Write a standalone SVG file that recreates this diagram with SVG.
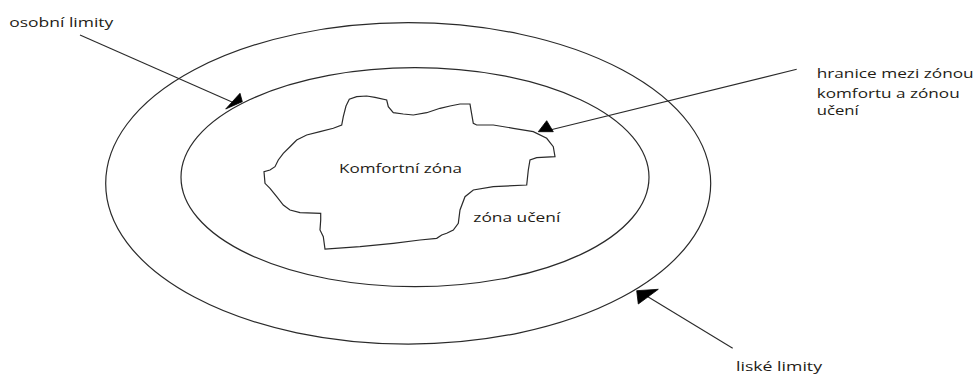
<svg xmlns="http://www.w3.org/2000/svg" width="976" height="374" viewBox="0 0 976 374">
<style>
.zone{fill:none;stroke:#2a2a2a;stroke-width:1.2}
.conn{fill:none;stroke:#2a2a2a;stroke-width:1.1}
.head{fill:#000;stroke:#000;stroke-width:0.8;stroke-linejoin:round}
.lbl{font-family:"Open Sans","Noto Sans","Liberation Sans",sans-serif;font-size:13px;fill:#241c16}
</style>
<rect width="976" height="374" fill="#fff"/>
<g id="outer-zone">
<ellipse class="zone" cx="408.2" cy="183.4" rx="302.5" ry="160.7"/>
</g>
<g id="learning-zone">
<ellipse class="zone" cx="415" cy="177.2" rx="234" ry="109.5"/>
<text class="lbl" x="473.3" y="221.7" textLength="87" lengthAdjust="spacingAndGlyphs">zóna učení</text>
</g>
<g id="comfort-zone">
<path class="zone" d="M346,106 L349.3,99.3 L356.7,96.7 L366.7,96 L375,97.3 L386.7,100 L388.3,106.7 L393.3,112.7 L403.3,114 L413.3,115 L426.7,112.7 L440,108.3 L450,106 L460,104 L470,104 L470.7,108.3 L473.3,123.3 L476.7,125 L493.3,125 L513.3,128.3 L533.3,131.7 L546.7,138.3 L553.3,146.7 L555,156.7 L536.7,157.7 L530,160 L528.3,170 L526.7,185 L493.3,186.7 L473.3,190 L465,196.7 L460,210 L458.3,223.3 L453.3,230 L446.7,233.3 L441.7,235 L436.7,238.3 L420,240 L393.3,243.3 L360,246.7 L325,249 L323.3,236.7 L320,230 L320.7,220 L320.7,213.3 L300,212.7 L290,210 L283.3,205 L276.7,196.7 L270,188.3 L265,183.3 L264,171.7 L270,170 L275,166.7 L278.3,160 L283.3,153.3 L290,146.7 L296.7,140 L306.7,135 L320,131.7 L333.3,128.3 L341.7,125 L343.3,116.7 Z"/>
<text class="lbl" x="339" y="173" textLength="123" lengthAdjust="spacingAndGlyphs">Komfortní zóna</text>
</g>
<g id="label-osobni">
<text class="lbl" x="9.3" y="27" textLength="104" lengthAdjust="spacingAndGlyphs">osobní limity</text>
</g>
<g id="label-hranice">
<text class="lbl" x="816.7" y="78.3" textLength="157" lengthAdjust="spacingAndGlyphs">hranice mezi zónou</text>
<text class="lbl" x="816.7" y="97.7" textLength="143" lengthAdjust="spacingAndGlyphs">komfortu a zónou</text>
<text class="lbl" x="816.7" y="115" textLength="42" lengthAdjust="spacingAndGlyphs">učení</text>
</g>
<g id="label-liske">
<text class="lbl" x="736" y="371" textLength="86" lengthAdjust="spacingAndGlyphs">liské limity</text>
</g>
<g id="connectors">
<line class="conn" x1="80" y1="35" x2="232" y2="102"/>
<polygon class="head" points="240,93.3 225.7,109 242.3,101.7"/>
<line class="conn" x1="796.7" y1="69.3" x2="550" y2="130"/>
<polygon class="head" points="546.7,120.7 538.3,131.7 553.3,131.7"/>
<line class="conn" x1="732.7" y1="348.3" x2="645" y2="295"/>
<polygon class="head" points="636.7,290.7 658.3,289.3 638.3,304"/>
</g>
</svg>
